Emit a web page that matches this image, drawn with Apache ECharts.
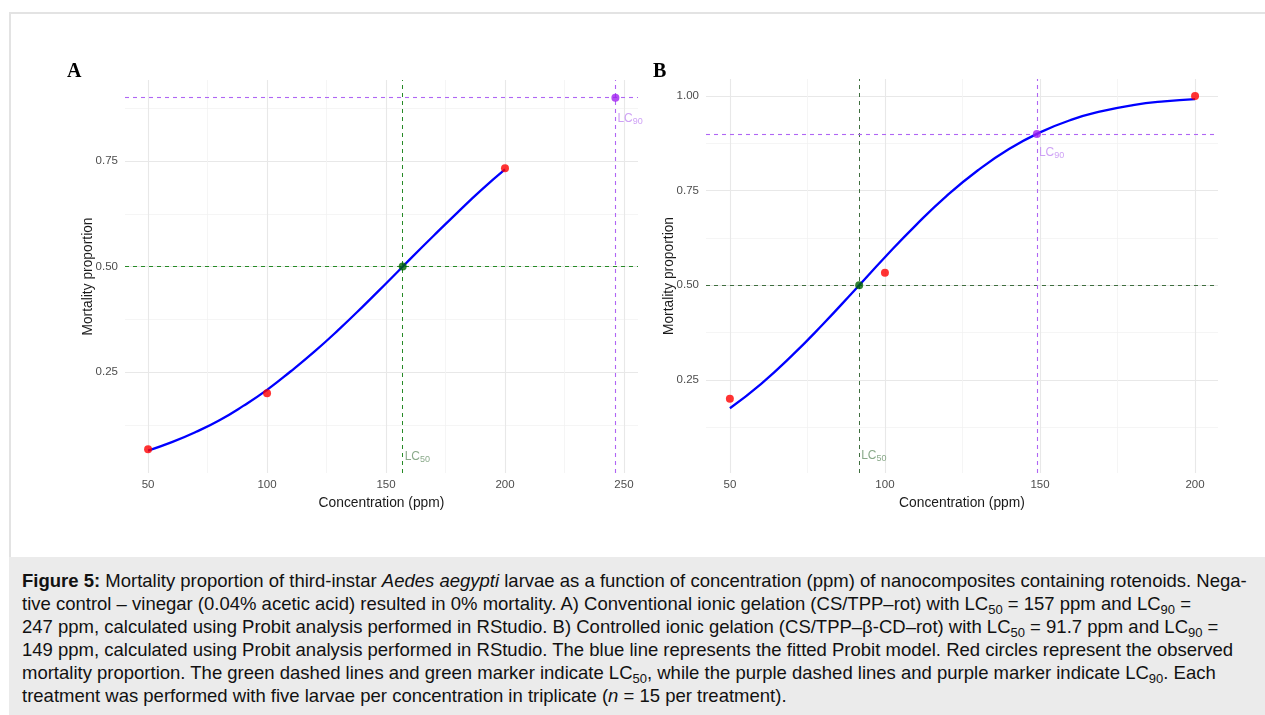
<!DOCTYPE html>
<html>
<head>
<meta charset="utf-8">
<script src="https://cdn.jsdelivr.net/npm/echarts@6/dist/echarts.min.js"></script>
<style>
  body { margin: 0; background: #fff; font-family: "Liberation Sans", Arial, sans-serif; }
  #frame {
    position: absolute; left: 9px; top: 12px; width: 1256px; height: 703px;
    border-top: 2px solid #e3e3e3; border-left: 2px solid #e3e3e3; box-sizing: border-box;
  }
  #chart { position: absolute; left: 0; top: 0; width: 1265px; height: 557px; }
  #caption {
    position: absolute; left: 9px; top: 557px; width: 1256px; height: 158px;
    background: #ebebeb; box-sizing: border-box; padding: 12px 0 0 13px;
    font-size: 18.5px; line-height: 23px; color: #111;
  }
  #caption div { white-space: nowrap; }
  #caption sub { font-size: 13px; line-height: 0; vertical-align: -4px; }
</style>
</head>
<body>
<div id="frame"></div>
<div id="chart"></div>
<div id="caption">
  <div><b>Figure 5:</b> Mortality proportion of third-instar <i>Aedes aegypti</i> larvae as a function of concentration (ppm) of nanocomposites containing rotenoids. Nega-</div>
  <div>tive control – vinegar (0.04% acetic acid) resulted in 0% mortality. A) Conventional ionic gelation (CS/TPP–rot) with LC<sub>50</sub> = 157 ppm and LC<sub>90</sub> =</div>
  <div>247 ppm, calculated using Probit analysis performed in RStudio. B) Controlled ionic gelation (CS/TPP–β-CD–rot) with LC<sub>50</sub> = 91.7 ppm and LC<sub>90</sub> =</div>
  <div>149 ppm, calculated using Probit analysis performed in RStudio. The blue line represents the fitted Probit model. Red circles represent the observed</div>
  <div>mortality proportion. The green dashed lines and green marker indicate LC<sub>50</sub>, while the purple dashed lines and purple marker indicate LC<sub>90</sub>. Each</div>
  <div>treatment was performed with five larvae per concentration in triplicate (<i>n</i> = 15 per treatment).</div>
</div>
<script>
// fitted probit curve (concentration, proportion)
const fitConc = [50, 60, 70, 80, 90, 100, 110, 120, 130, 140, 150, 160, 170, 180, 190, 200]
const fitA = [0.064, 0.084, 0.108, 0.136, 0.170, 0.208, 0.252, 0.299, 0.350, 0.404, 0.460, 0.517, 0.573, 0.628, 0.681, 0.730]
const fitB = [0.175, 0.239, 0.314, 0.397, 0.485, 0.574, 0.659, 0.737, 0.804, 0.860, 0.904, 0.937, 0.960, 0.976, 0.986, 0.992]

// observed mortality (red circles)
const obsConcA = [50, 100, 200]
const obsA = [0.067, 0.200, 0.733]
const obsConcB = [50, 100, 200]
const obsB = [0.200, 0.533, 1.000]

// lethal concentrations as drawn
const lc50A = 157
const lc90A = 246.4
const lc50B = 91.7
const lc90B = 149

// tick values
const xTicksA = [50, 100, 150, 200, 250]
const xMinorA = [75, 125, 175, 225]
const yTicksA = [0.25, 0.5, 0.75]
const xTicksB = [50, 100, 150, 200]
const xMinorB = [75, 125, 175]
const yTicksB = [0.25, 0.5, 0.75, 1.0]
const yMinor = [0.125, 0.375, 0.625, 0.875]

const zip = (xs, ys) => xs.map((x, i) => [x, ys[i]])

const txt = '#4d4d4d'
const labelFont = 'Liberation Sans'

function majorX(grid, min, max, ticks) {
  return {
    type: 'value', gridIndex: grid, min: min, max: max, position: 'bottom',
    name: 'Concentration (ppm)', nameLocation: 'middle', nameGap: 22,
    nameTextStyle: { color: '#1a1a1a', fontSize: 13.8, fontFamily: labelFont },
    axisLine: { show: false },
    axisTick: { show: false, customValues: ticks },
    axisLabel: { customValues: ticks, color: txt, fontSize: 11.5, fontFamily: labelFont, margin: 6 },
    splitLine: { show: true, lineStyle: { color: '#e8e8e8', width: 1.1 } }
  }
}
function minorX(grid, min, max, ticks) {
  return {
    type: 'value', gridIndex: grid, min: min, max: max, position: 'top',
    axisLine: { show: false },
    axisTick: { show: false, customValues: ticks },
    axisLabel: { show: false, customValues: ticks },
    splitLine: { show: true, lineStyle: { color: '#f3f3f3', width: 0.8 } }
  }
}
function majorY(grid, min, max, ticks) {
  return {
    type: 'value', gridIndex: grid, min: min, max: max, position: 'left',
    name: 'Mortality proportion', nameLocation: 'middle', nameGap: 30, nameMoveOverlap: false,
    nameTextStyle: { color: '#1a1a1a', fontSize: 13.8, fontFamily: labelFont },
    axisLine: { show: false },
    axisTick: { show: false, customValues: ticks },
    axisLabel: { customValues: ticks, color: txt, fontSize: 11.5, fontFamily: labelFont, margin: 7,
      formatter: v => v.toFixed(2) },
    splitLine: { show: true, lineStyle: { color: '#e8e8e8', width: 1.1 } }
  }
}
function minorY(grid, min, max, ticks) {
  return {
    type: 'value', gridIndex: grid, min: min, max: max, position: 'right',
    axisLine: { show: false },
    axisTick: { show: false, customValues: ticks },
    axisLabel: { show: false, customValues: ticks },
    splitLine: { show: true, lineStyle: { color: '#f3f3f3', width: 0.8 } }
  }
}

function lcLabel(color, sub) {
  return {
    show: true, position: 'right', distance: 2,
    formatter: '{m|LC}{s|' + sub + '}',
    rich: {
      m: { fontSize: 12, color: color, fontFamily: labelFont },
      s: { fontSize: 9, color: color, fontFamily: labelFont, padding: [6, 0, 0, 0] }
    }
  }
}

// one panel = curve, observed points, LC markers with dashed guides, LC labels
function panel(xi, yi, fit, obsX, obsY, lc50, lc90, green) {
  return [
    {
      type: 'line', xAxisIndex: xi, yAxisIndex: yi, data: zip(fitConc, fit),
      smooth: true, showSymbol: false, symbol: 'none', z: 3,
      lineStyle: { color: '#0000ff', width: 2.3 }
    },
    {
      type: 'scatter', xAxisIndex: xi, yAxisIndex: yi, data: zip(obsX, obsY),
      symbolSize: 8, itemStyle: { color: '#ff0000' }, z: 4
    },
    {
      type: 'scatter', xAxisIndex: xi, yAxisIndex: yi, data: [[lc50, 0.5]],
      symbolSize: 8, itemStyle: { color: '#006400' }, z: 5,
      markLine: {
        silent: true, symbol: 'none', label: { show: false }, z: 2,
        lineStyle: { color: green, type: [4, 4], width: 1 },
        data: [{ xAxis: lc50 }, { yAxis: 0.5 }]
      }
    },
    {
      type: 'scatter', xAxisIndex: xi, yAxisIndex: yi, data: [[lc90, 0.9]],
      symbolSize: 8, itemStyle: { color: '#a020f0' }, z: 5,
      markLine: {
        silent: true, symbol: 'none', label: { show: false }, z: 2,
        lineStyle: { color: '#b066f4', type: [4, 4], width: 1.1 },
        data: [{ xAxis: lc90 }, { yAxis: 0.9 }]
      }
    },
    {
      type: 'scatter', xAxisIndex: xi, yAxisIndex: yi, data: [[lc50, 0.05]],
      symbolSize: 0, label: lcLabel('#6b936b', '50'), silent: true
    },
    {
      type: 'scatter', xAxisIndex: xi, yAxisIndex: yi, data: [[lc90, 0.85]],
      symbolSize: 0, label: lcLabel('#c28af2', '90'), silent: true
    }
  ]
}

const chart = echarts.init(document.getElementById('chart'), null, { renderer: 'canvas' })
chart.setOption({
  animation: false,
  backgroundColor: 'transparent',
  grid: [
    { left: 125, top: 80, width: 513, height: 393 },
    { left: 706, top: 79, width: 512, height: 394 }
  ],
  xAxis: [
    majorX(0, 40.3, 255.9, xTicksA),
    minorX(0, 40.3, 255.9, xMinorA),
    majorX(1, 42.3, 207.4, xTicksB),
    minorX(1, 42.3, 207.4, xMinorB)
  ],
  yAxis: [
    majorY(0, 0.011, 0.942, yTicksA),
    minorY(0, 0.011, 0.942, yMinor),
    majorY(1, 0.004, 1.045, yTicksB),
    minorY(1, 0.004, 1.045, yMinor)
  ],
  graphic: [
    { type: 'text', left: 67, top: 62, style: { text: 'A', font: 'bold 20px "Liberation Serif", serif', fill: '#000' } },
    { type: 'text', left: 653, top: 62, style: { text: 'B', font: 'bold 20px "Liberation Serif", serif', fill: '#000' } }
  ],
  series: [].concat(
    panel(0, 0, fitA, obsConcA, obsA, lc50A, lc90A, '#268a26'),
    panel(2, 2, fitB, obsConcB, obsB, lc50B, lc90B, '#3f6e3f')
  )
})
</script>
</body>
</html>
